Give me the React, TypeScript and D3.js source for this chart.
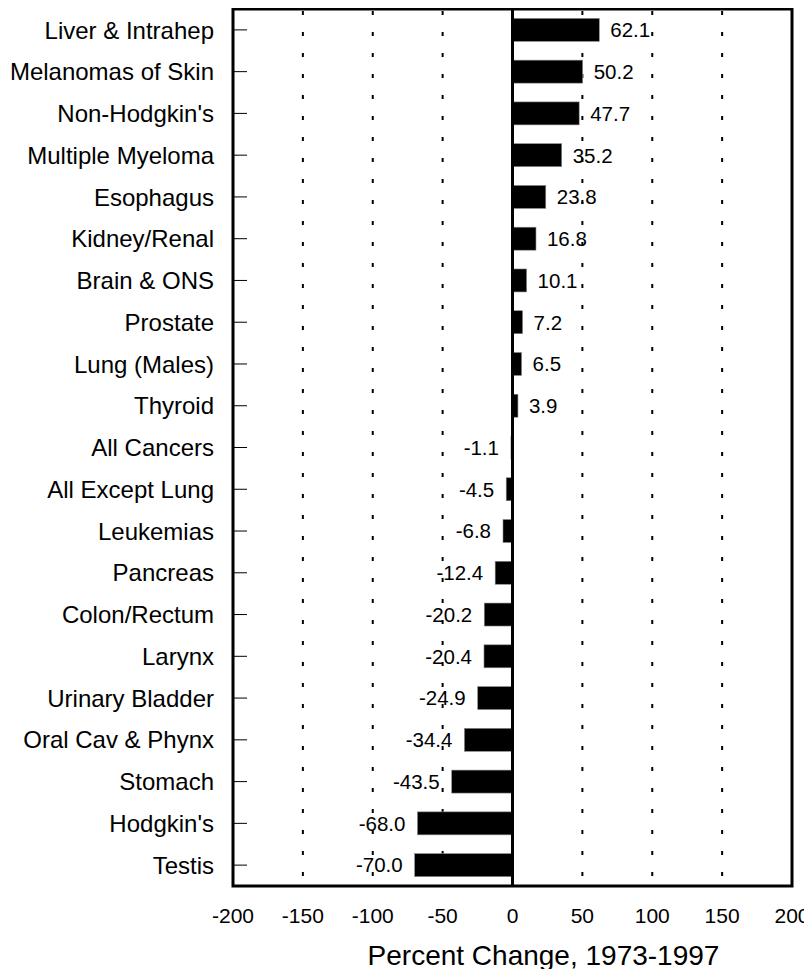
import React, { useRef, useEffect } from 'react';
import * as d3 from 'd3';

const categories: string[] = [
    "Liver & Intrahep", "Melanomas of Skin", "Non-Hodgkin's", "Multiple Myeloma", "Esophagus",
    "Kidney/Renal", "Brain & ONS", "Prostate", "Lung (Males)", "Thyroid", "All Cancers",
    "All Except Lung", "Leukemias", "Pancreas", "Colon/Rectum", "Larynx", "Urinary Bladder",
    "Oral Cav & Phynx", "Stomach", "Hodgkin's", "Testis",
];

const changes: number[] = [
    62.1, 50.2, 47.7, 35.2, 23.8, 16.8, 10.1, 7.2, 6.5, 3.9, -1.1,
    -4.5, -6.8, -12.4, -20.2, -20.4, -24.9, -34.4, -43.5, -68.0, -70.0,
];

const xTicks: number[] = [-200, -150, -100, -50, 0, 50, 100, 150, 200];
const gridValues: number[] = [-150, -100, -50, 50, 100, 150];

const xTitle = "Percent Change, 1973-1997";

const W = 812;
const H = 977;
const margin = { top: 9, right: 20, bottom: 91, left: 233 };

const App: React.FC = () => {
    const ref = useRef<SVGSVGElement>(null);

    useEffect(() => {
        if (!ref.current) return;
        const svg = d3.select(ref.current);
        svg.selectAll("*").remove();

        const data = categories.map((c, i) => ({ name: c, value: changes[i] }));
        const font = "Liberation Sans, Arial, sans-serif";

        const x = d3.scaleLinear().domain([-200, 200]).range([margin.left, W - margin.right]);
        const y = d3.scaleBand()
            .domain(categories)
            .range([margin.top, H - margin.bottom])
            .paddingInner(0.45)
            .paddingOuter(0.225);

        const top = margin.top;
        const bottom = H - margin.bottom;

        // dotted grid
        svg.selectAll(".grid")
            .data(gridValues)
            .enter()
            .append("line")
            .attr("x1", d => x(d)).attr("x2", d => x(d))
            .attr("y1", top + 2).attr("y2", bottom)
            .attr("stroke", "#000")
            .attr("stroke-width", 2)
            .attr("stroke-dasharray", "4,17");

        // y ticks
        svg.selectAll(".ytick")
            .data(categories)
            .enter()
            .append("line")
            .attr("x1", margin.left).attr("x2", margin.left + 14)
            .attr("y1", d => y(d)! + y.bandwidth() / 2)
            .attr("y2", d => y(d)! + y.bandwidth() / 2)
            .attr("stroke", "#000")
            .attr("stroke-width", 1);

        // bars
        svg.selectAll(".bar")
            .data(data)
            .enter()
            .append("rect")
            .attr("x", d => x(Math.min(0, d.value)))
            .attr("y", d => y(d.name)!)
            .attr("width", d => Math.abs(x(d.value) - x(0)))
            .attr("height", y.bandwidth())
            .attr("fill", "#000")
            .attr("stroke", "#888")
            .attr("stroke-width", 0.6);

        // value labels
        svg.selectAll(".val")
            .data(data)
            .enter()
            .append("text")
            .attr("x", d => d.value >= 0 ? x(d.value) + 11 : x(d.value) - 12)
            .attr("y", d => y(d.name)! + y.bandwidth() / 2)
            .attr("dy", "0.36em")
            .attr("text-anchor", d => d.value >= 0 ? "start" : "end")
            .attr("font-family", font)
            .attr("font-size", 20.5)
            .attr("fill", "#000")
            .text(d => d.value.toFixed(1));

        // category labels
        svg.selectAll(".cat")
            .data(categories)
            .enter()
            .append("text")
            .attr("x", margin.left - 19)
            .attr("y", d => y(d)! + y.bandwidth() / 2)
            .attr("dy", "0.36em")
            .attr("text-anchor", "end")
            .attr("font-family", font)
            .attr("font-size", 24)
            .attr("fill", "#000")
            .text(d => d);

        // zero line
        svg.append("line")
            .attr("x1", x(0)).attr("x2", x(0))
            .attr("y1", top).attr("y2", bottom)
            .attr("stroke", "#000")
            .attr("stroke-width", 3);

        // frame
        svg.append("rect")
            .attr("x", margin.left)
            .attr("y", top)
            .attr("width", W - margin.right - margin.left)
            .attr("height", bottom - top)
            .attr("fill", "none")
            .attr("stroke", "#000")
            .attr("stroke-width", 3);

        // x tick labels
        svg.selectAll(".xt")
            .data(xTicks)
            .enter()
            .append("text")
            .attr("x", d => x(d))
            .attr("y", bottom + 37)
            .attr("text-anchor", "middle")
            .attr("font-family", font)
            .attr("font-size", 21)
            .attr("fill", "#000")
            .text(d => String(d));

        svg.append("text")
            .attr("x", x(0) + 31)
            .attr("y", bottom + 79)
            .attr("text-anchor", "middle")
            .attr("font-family", font)
            .attr("font-size", 28)
            .attr("fill", "#000")
            .text(xTitle);
    }, []);

    return <svg ref={ref} width={W} height={H} style={{ display: 'block', margin: -8 }}></svg>;
};

export default App;
